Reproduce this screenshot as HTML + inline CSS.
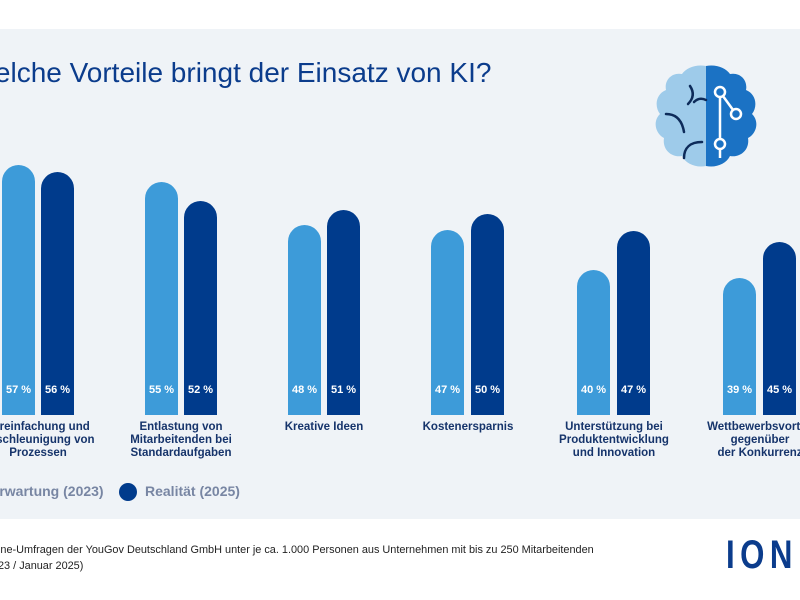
<!DOCTYPE html>
<html><head><meta charset="utf-8"><style>
body{margin:0;width:800px;height:600px;overflow:hidden;background:#fff;position:relative;font-family:"Liberation Sans",sans-serif}
.panel{position:absolute;left:0;top:29px;width:800px;height:490px;background:#eff3f7}
.t{position:absolute;white-space:nowrap}
.bar{position:absolute;width:33px;border-radius:16.5px 16.5px 0 0;bottom:185px}
.l{background:#3d9bd9}.d{background:#003b8c}
.pct{position:absolute;width:33px;text-align:center;top:384px;color:#fff;font-size:11px;font-weight:bold}
.cat{position:absolute;width:160px;text-align:center;top:421px;font-size:11.5px;font-weight:bold;color:#16346b;line-height:13px}
</style></head><body>
<div class="panel"></div>
<div class="t" style="left:-31px;top:57px;font-size:28px;color:#0b3c8c">Welche Vorteile bringt der Einsatz von KI?</div>
<svg style="position:absolute;left:650px;top:62px" width="112" height="110" viewBox="0 0 112 110">
<path d="M56 4 C46 2 36 6 32 12 C22 10 14 18 16 28 C6 32 4 44 10 52 C2 60 6 72 14 76 C12 88 22 96 32 94 C36 102 46 106 56 104 Z" fill="#9ecbea"/>
<path d="M56 4 C66 2 76 6 80 12 C90 10 98 18 96 28 C106 32 108 44 102 52 C110 60 106 72 98 76 C100 88 90 96 80 94 C76 102 66 106 56 104 Z" fill="#1b72c4"/>
<g fill="none" stroke="#0d2b5a" stroke-width="2.5" stroke-linecap="round">
<path d="M40 24 C44 30 44 36 38 42"/><path d="M44 40 C48 36 52 36 56 38"/>
<path d="M16 52 C26 52 32 58 34 70"/><path d="M34 96 C34 86 40 80 52 80"/>
</g>
<g stroke="#fff" stroke-width="2.5" fill="#1b72c4">
<line x1="70" y1="30" x2="70" y2="96"/><line x1="70" y1="30" x2="86" y2="52"/>
<circle cx="70" cy="30" r="5"/><circle cx="86" cy="52" r="5"/><circle cx="70" cy="82" r="5"/>
</g>
</svg>

<div class="bar l" style="left:2px;height:250px"></div><div class="bar d" style="left:41px;height:243px"></div>
<div class="bar l" style="left:145px;height:233px"></div><div class="bar d" style="left:184px;height:214px"></div>
<div class="bar l" style="left:288px;height:190px"></div><div class="bar d" style="left:327px;height:205px"></div>
<div class="bar l" style="left:431px;height:185px"></div><div class="bar d" style="left:471px;height:201px"></div>
<div class="bar l" style="left:577px;height:145px"></div><div class="bar d" style="left:617px;height:184px"></div>
<div class="bar l" style="left:723px;height:137px"></div><div class="bar d" style="left:763px;height:173px"></div>

<div class="pct" style="left:2px">57 %</div><div class="pct" style="left:41px">56 %</div>
<div class="pct" style="left:145px">55 %</div><div class="pct" style="left:184px">52 %</div>
<div class="pct" style="left:288px">48 %</div><div class="pct" style="left:327px">51 %</div>
<div class="pct" style="left:431px">47 %</div><div class="pct" style="left:471px">50 %</div>
<div class="pct" style="left:577px">40 %</div><div class="pct" style="left:617px">47 %</div>
<div class="pct" style="left:723px">39 %</div><div class="pct" style="left:763px">45 %</div>

<div class="cat" style="left:-42px">Vereinfachung und<br>Beschleunigung von<br>Prozessen</div>
<div class="cat" style="left:101px">Entlastung von<br>Mitarbeitenden bei<br>Standardaufgaben</div>
<div class="cat" style="left:244px">Kreative Ideen</div>
<div class="cat" style="left:388px">Kostenersparnis</div>
<div class="cat" style="left:534px">Unterstützung bei<br>Produktentwicklung<br>und Innovation</div>
<div class="cat" style="left:680px">Wettbewerbsvorteil<br>gegenüber<br>der Konkurrenz</div>

<div class="t" style="left:-10px;top:483px;font-size:14px;font-weight:bold;color:#7886a3">Erwartung (2023)</div>
<div style="position:absolute;left:119px;top:483px;width:18px;height:18px;border-radius:50%;background:#003b8c"></div>
<div class="t" style="left:145px;top:483px;font-size:14px;font-weight:bold;color:#7886a3">Realität (2025)</div>

<div class="t" style="left:-2px;top:544px;font-size:10.9px;color:#222">ine-Umfragen der YouGov Deutschland GmbH unter je ca. 1.000 Personen aus Unternehmen mit bis zu 250 Mitarbeitenden</div>
<div class="t" style="left:-2px;top:560px;font-size:10.9px;color:#222">23 / Januar 2025)</div>
<div class="t" style="left:726px;top:533px;font-size:40px;font-weight:bold;color:#0b3c8c;letter-spacing:7px;transform:scaleX(0.78);transform-origin:left">ION</div>
</body></html>
